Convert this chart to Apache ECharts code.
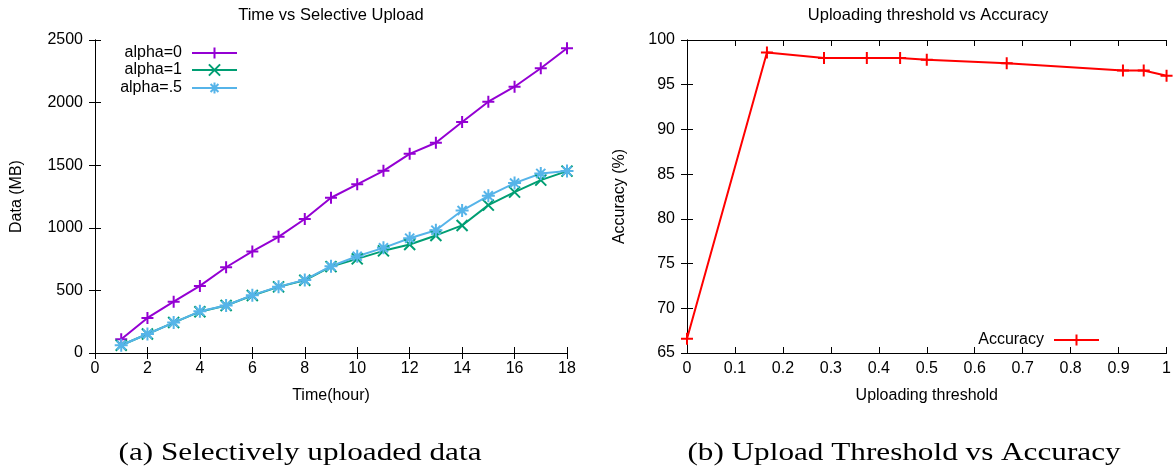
<!DOCTYPE html>
<html>
<head>
<meta charset="utf-8">
<script src="https://cdn.jsdelivr.net/npm/echarts@6/dist/echarts.min.js"></script>
<style>
  html, body { margin: 0; padding: 0; background: #fff; }
  #chart { width: 1174px; height: 470px; }
</style>
</head>
<body>
<div id="chart"></div>
<script>
// left chart: data uploaded per hour
const hours = [1, 2, 3, 4, 5, 6, 7, 8, 9, 10, 11, 12, 13, 14, 15, 16, 17, 18];
const alpha0 = [110, 280, 410, 536, 685, 811, 928, 1070, 1240, 1347, 1455, 1591, 1679, 1845, 2007, 2127, 2274, 2434];
const alpha1 = [62, 152, 243, 330, 379, 459, 528, 581, 690, 752, 816, 867, 939, 1019, 1181, 1285, 1381, 1453];
const alphaHalf = [62, 152, 243, 333, 379, 462, 530, 584, 693, 773, 840, 917, 981, 1138, 1255, 1357, 1434, 1453];

// right chart: threshold vs accuracy
const thresholds = [0, 0.1667, 0.2857, 0.375, 0.4444, 0.5, 0.6667, 0.9091, 0.9524, 1];
const accuracy = [66.6, 98.6, 98.0, 98.0, 98.0, 97.8, 97.4, 96.6, 96.6, 96.0];

const FONT = '"Liberation Sans", Arial, sans-serif';
const SERIF = '"Liberation Serif", "Times New Roman", serif';

// gnuplot style markers
const PLUS = 'path://M5,0L5,10M0,5L10,5';
const CROSS = 'path://M0,0L10,10M10,0L0,10';
const STAR = 'path://M5,0L5,10M0,5L10,5M1.5,1.5L8.5,8.5M8.5,1.5L1.5,8.5';

function pairs(xs, ys) {
  return xs.map((x, i) => [x, ys[i]]);
}

function lineSeries(name, color, symbol, size, data, xi, yi) {
  return {
    name: name,
    type: 'line',
    xAxisIndex: xi,
    yAxisIndex: yi,
    data: data,
    symbol: symbol,
    symbolSize: size,
    showSymbol: true,
    clip: false,
    lineStyle: { color: color, width: 2 },
    itemStyle: { color: color, borderColor: color, borderWidth: 2 },
    emphasis: { disabled: true },
    animation: false
  };
}

function axisBase(show) {
  return {
    axisLine: { show: true, lineStyle: { color: '#000', width: 1 } },
    axisTick: { show: true, inside: true, length: 6, lineStyle: { color: '#000' } },
    axisLabel: { show: show, color: '#000', fontSize: 16, fontFamily: FONT },
    splitLine: { show: false }
  };
}

const nameStyle = { color: '#000', fontSize: 16, fontFamily: FONT };
const plain = v => String(v);

var myChart = echarts.init(document.getElementById('chart'));

var option = {
  backgroundColor: '#fff',
  animation: false,
  grid: [
    { left: 95, top: 40, width: 472, height: 313 },
    { left: 687, top: 40, width: 481, height: 313 }
  ],
  xAxis: [
    Object.assign(axisBase(true), {
      type: 'value', gridIndex: 0, position: 'bottom', min: 0, max: 18, interval: 2,
      axisLabel: { color: '#000', fontSize: 16, fontFamily: FONT, margin: 8, formatter: plain },
      name: 'Time(hour)', nameLocation: 'middle', nameGap: 35, nameTextStyle: nameStyle
    }),
    Object.assign(axisBase(false), {
      type: 'value', gridIndex: 0, position: 'top', min: 0, max: 18, interval: 2
    }),
    Object.assign(axisBase(true), {
      type: 'value', gridIndex: 1, position: 'bottom', min: 0, max: 1, interval: 0.1,
      axisLabel: {
        color: '#000', fontSize: 16, fontFamily: FONT, margin: 8,
        formatter: v => (v === 0 || v === 1) ? String(v) : v.toFixed(1)
      },
      name: 'Uploading threshold', nameLocation: 'middle', nameGap: 35, nameTextStyle: nameStyle
    }),
    Object.assign(axisBase(false), {
      type: 'value', gridIndex: 1, position: 'top', min: 0, max: 1, interval: 0.1
    })
  ],
  yAxis: [
    Object.assign(axisBase(true), {
      type: 'value', gridIndex: 0, position: 'left', min: 0, max: 2500, interval: 500,
      axisLabel: { color: '#000', fontSize: 16, fontFamily: FONT, margin: 12, formatter: plain },
      name: 'Data (MB)', nameLocation: 'middle', nameGap: 70, nameTextStyle: nameStyle
    }),
    Object.assign(axisBase(false), {
      type: 'value', gridIndex: 0, position: 'right', min: 0, max: 2500, interval: 500
    }),
    Object.assign(axisBase(true), {
      type: 'value', gridIndex: 1, position: 'left', min: 65, max: 100, interval: 5,
      axisLabel: { color: '#000', fontSize: 16, fontFamily: FONT, margin: 12, formatter: plain },
      name: 'Accuracy (%)', nameLocation: 'middle', nameGap: 59, nameTextStyle: nameStyle
    }),
    Object.assign(axisBase(false), {
      type: 'value', gridIndex: 1, position: 'right', min: 65, max: 100, interval: 5
    })
  ],
  legend: [
    { data: ['alpha=0'], right: 936, top: 45 },
    { data: ['alpha=1'], right: 936, top: 62 },
    { data: ['alpha=.5'], right: 936, top: 80 },
    { data: ['Accuracy'], right: 74, top: 332 }
  ].map(l => Object.assign({
    orient: 'vertical', align: 'right', padding: 0, itemWidth: 45, itemHeight: 14, itemGap: 0,
    selectedMode: false,
    textStyle: { color: '#000', fontSize: 16, fontFamily: FONT, padding: [0, 5, 0, 0] }
  }, l)),
  graphic: [
    { type: 'text', x: 331, y: 15, style: { text: 'Time vs Selective Upload', font: '16.5px ' + FONT, fill: '#000', textAlign: 'center', textVerticalAlign: 'middle' } },
    { type: 'text', x: 928, y: 15, style: { text: 'Uploading threshold vs Accuracy', font: '16.5px ' + FONT, fill: '#000', textAlign: 'center', textVerticalAlign: 'middle' } },
    { type: 'text', x: 300, y: 453, scaleX: 1.2, style: { text: '(a) Selectively uploaded data', font: '26px ' + SERIF, fill: '#000', textAlign: 'center', textVerticalAlign: 'middle' } },
    { type: 'text', x: 904, y: 453, scaleX: 1.2, style: { text: '(b) Upload Threshold vs Accuracy', font: '26px ' + SERIF, fill: '#000', textAlign: 'center', textVerticalAlign: 'middle' } }
  ],
  series: [
    lineSeries('alpha=0', '#9400D3', PLUS, 12, pairs(hours, alpha0), 0, 0),
    lineSeries('alpha=1', '#009E73', CROSS, 11, pairs(hours, alpha1), 0, 0),
    lineSeries('alpha=.5', '#56B4E9', STAR, 13, pairs(hours, alphaHalf), 0, 0),
    lineSeries('Accuracy', '#FF0000', PLUS, 12, pairs(thresholds, accuracy), 2, 2)
  ]
};

myChart.setOption(option);
</script>
</body>
</html>
